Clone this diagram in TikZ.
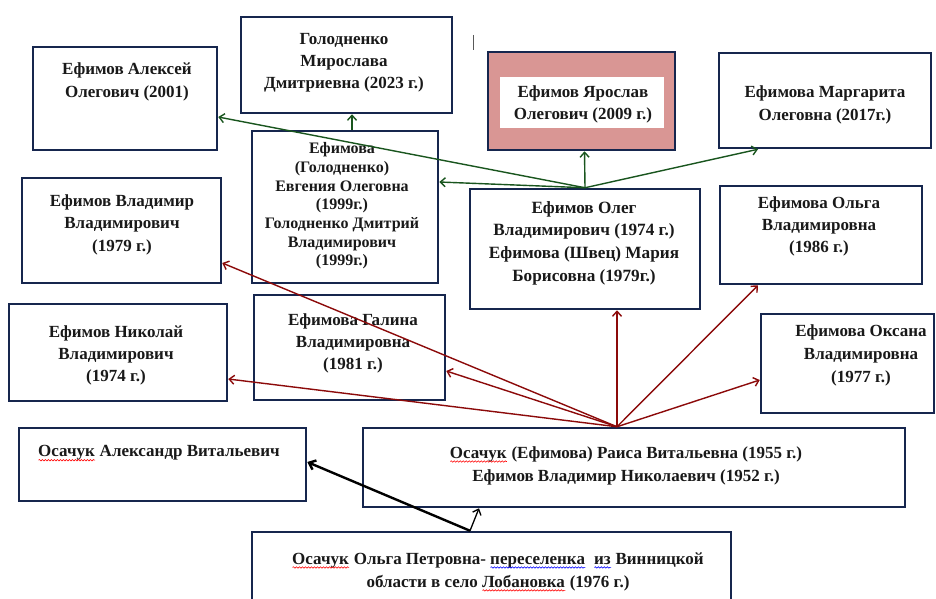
\documentclass[tikz,border=0pt]{standalone}
\usepackage{fontspec}
\setmainfont{Liberation Serif}
\usetikzlibrary{arrows.meta,calc,decorations.pathmorphing}
\definecolor{navy}{RGB}{22,38,78}
\definecolor{dgreen}{RGB}{25,85,30}
\definecolor{dred}{RGB}{140,10,10}
\definecolor{pinkf}{RGB}{217,150,148}
\definecolor{txt}{RGB}{25,25,25}
\newlength\wavlen
\newcommand\wav[2]{\settowidth\wavlen{#2}\leavevmode\rlap{#2}\smash{\raisebox{-3.4pt}{\tikz[x=1pt,y=1pt,baseline=0pt]\draw[#1,line width=0.6pt,decorate,decoration={snake,amplitude=0.7pt,segment length=3pt}] (0pt,0pt) -- (\the\wavlen,0pt);}}}
\tikzset{
  box/.style={draw=navy, line width=2.5pt, inner sep=0pt, rectangle},
  lbl/.style={align=center, text=txt, inner sep=0pt, font=\bfseries\fontsize{17}{22.5}\selectfont},
  garr/.style={dgreen, line width=1.4pt, -{Straight Barb[length=5pt,width=9pt]}},
  rarr/.style={dred, line width=1.4pt, -{Straight Barb[length=5pt,width=9pt]}},
  barr/.style={black, line width=2.4pt, -{Straight Barb[length=6pt,width=10pt]}},
  barrthin/.style={black, line width=1.3pt, -{Straight Barb[length=5pt,width=9pt]}}
}
\begin{document}
\begin{tikzpicture}[x=1pt,y=-1pt]
\useasboundingbox (0,0) rectangle (936,599);
\clip (0,0) rectangle (936,599);
\fill[white] (0,0) rectangle (936,599);

% boxes
\node[box, minimum width=184pt, minimum height=103pt] (alexey) at (125,98.5) {};
\node[box, minimum width=211pt, minimum height=96pt] (miro) at (346.5,65) {};
\node[box, minimum width=186pt, minimum height=152pt] (evg) at (345,207) {};
\node[box, minimum width=199pt, minimum height=105pt] (vlad) at (121.5,230.5) {};
\node[box, fill=pinkf, minimum width=187pt, minimum height=98pt] (yar) at (581.5,101) {};
\node[fill=white, inner sep=0pt, minimum width=164pt, minimum height=51pt] (yarin) at (582,102.5) {};
\node[box, minimum width=212pt, minimum height=95pt] (marg) at (825,100.5) {};
\node[box, minimum width=230pt, minimum height=120pt] (oleg) at (585,249) {};
\node[box, minimum width=202pt, minimum height=98pt] (olga) at (821,235) {};
\node[box, minimum width=218pt, minimum height=97pt] (nik) at (118,352.5) {};
\node[box, minimum width=191pt, minimum height=105pt] (gal) at (349.5,347.5) {};
\node[box, minimum width=287pt, minimum height=73pt] (alex) at (162.5,464.5) {};
\node[box, minimum width=542pt, minimum height=79pt] (raisa) at (634,467.5) {};
\node[box, minimum width=479pt, minimum height=83pt] (olgap) at (491.5,573.5) {};
\node[box, minimum width=173pt, minimum height=99pt] (oksana) at (847.5,363.5) {};

% texts
\node[lbl, font=\bfseries\fontsize{17}{23}\selectfont] (alexeyT) at (127,81.5) {Ефимов Алексей\\Олегович (2001)};
\node[lbl, font=\bfseries\fontsize{17}{22}\selectfont] (miroT) at (344,63) {Голодненко\\Мирослава\\Дмитриевна (2023 г.)};
\node[lbl, font=\bfseries\fontsize{16}{18.7}\selectfont] (evgT) at (342,206) {Ефимова\\(Голодненко)\\Евгения Олеговна\\(1999г.)\\Голодненко Дмитрий\\Владимирович\\(1999г.)};
\node[lbl] (vladT) at (122,224.5) {Ефимов Владимир\\Владимирович\\(1979 г.)};
\node[lbl, font=\bfseries\fontsize{17}{22}\selectfont] (yarT) at (583,104) {Ефимов Ярослав\\Олегович (2009 г.)};
\node[lbl, font=\bfseries\fontsize{17}{23}\selectfont] (margT) at (825,104.5) {Ефимова Маргарита\\Олеговна (2017г.)};
\node[lbl, font=\bfseries\fontsize{17.2}{22.7}\selectfont] (olegT) at (584,243) {Ефимов Олег\\Владимирович (1974 г.)\\Ефимова (Швец) Мария\\Борисовна (1979г.)};
\node[lbl, font=\bfseries\fontsize{17}{22}\selectfont] (olgaT) at (819,226) {Ефимова Ольга\\Владимировна\\(1986 г.)};
\node[lbl, font=\bfseries\fontsize{17}{22}\selectfont] (nikT) at (116,355) {Ефимов Николай\\Владимирович\\(1974 г.)};
\node[lbl, font=\bfseries\fontsize{17}{22}\selectfont] (galT) at (353,343) {Ефимова Галина\\Владимировна\\(1981 г.)};
\node[lbl] (alexT) at (159,453) {\wav{red}{Осачук} Александр Витальевич};
\node[lbl, font=\bfseries\fontsize{17}{23}\selectfont] (raisaT) at (626,465.5) {\wav{red}{Осачук} (Ефимова) Раиса Витальевна (1955 г.)\\Ефимов Владимир Николаевич (1952 г.)};
\node[lbl, font=\bfseries\fontsize{17}{23}\selectfont] (oksanaT) at (861,355) {Ефимова Оксана\\Владимировна\\(1977 г.)};
\node[lbl, font=\bfseries\fontsize{17}{23}\selectfont] (olgapT) at (498,571.5) {\wav{red}{Осачук} Ольга Петровна- \wav{blue}{переселенка}\ \ \wav{blue}{из} Винницкой\\области в село \wav{red}{Лобановка} (1976 г.)};

% cursor mark
\draw[gray!70!black, line width=1pt] (473,35) -- (473,50);

% green arrows
\draw[garr] (oleg.north) -- ([yshift=-18.5pt]alexey.east);
\draw[garr] (oleg.north) -- ([yshift=25pt]evg.east);
\draw[garr] (oleg.north) -- ([xshift=3pt]yar.south);
\draw[garr] (oleg.north) -- ([xshift=-67pt]marg.south);
\draw[garr] ([xshift=7pt]evg.north) -- ([xshift=7pt]evg.north |- miro.south);

% red arrows
\coordinate (rO) at ([xshift=-17pt]raisa.north);
\draw[rarr] (rO) -- (rO |- oleg.south);
\draw[rarr] (rO) -- ([xshift=-63pt]olga.south);
\draw[rarr] (rO) -- ([yshift=-16.5pt]oksana.west);
\draw[rarr] (rO) -- ([yshift=-23.5pt]gal.east);
\draw[rarr] (rO) -- ([yshift=-26.5pt]nik.east);
\draw[rarr] (rO) -- ([yshift=-32.5pt]vlad.east);

% black arrows
\coordinate (bO) at ([xshift=-21.5pt]olgap.north);
\draw[barr] (bO) -- ([yshift=2.5pt]alex.east);
\draw[barrthin] (bO) -- ([xshift=-155pt]raisa.south);
\end{tikzpicture}
\end{document}
